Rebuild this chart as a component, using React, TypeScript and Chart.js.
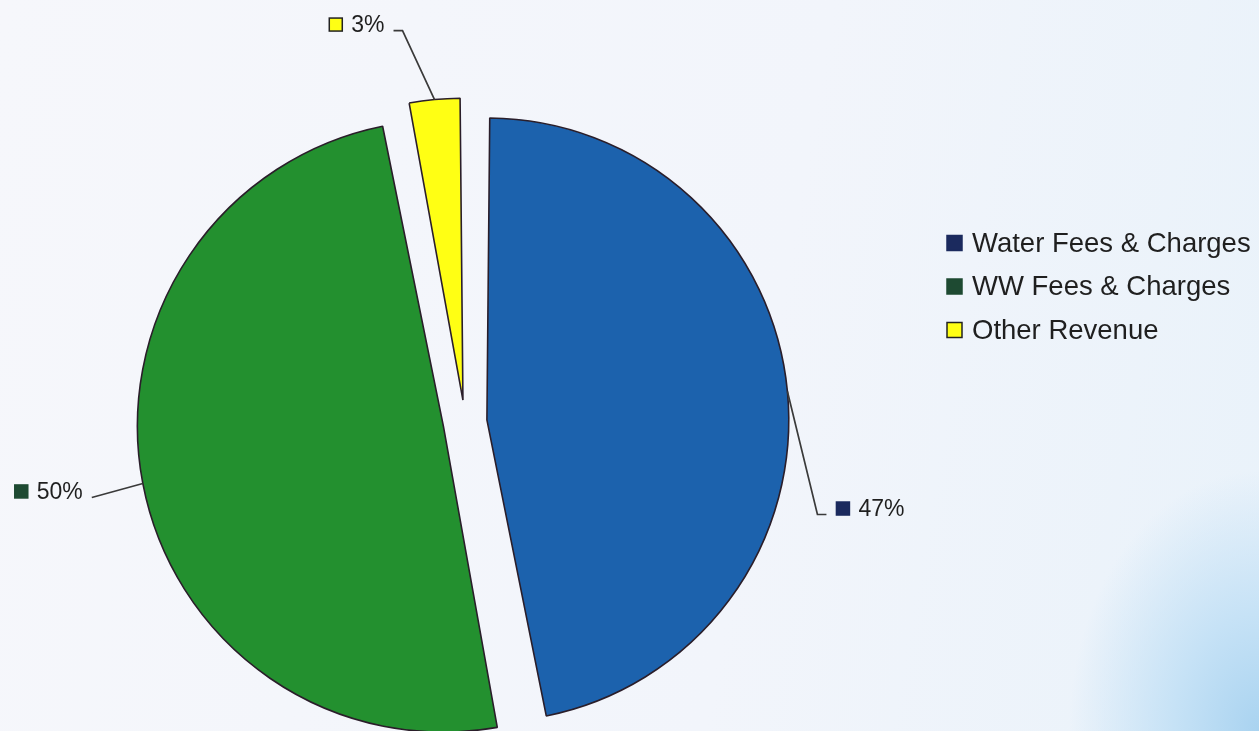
import React, { useEffect, useRef } from "react";
import { Chart, registerables } from "chart.js";

Chart.register(...registerables);

const categories = ["Water Fees & Charges", "WW Fees & Charges", "Other Revenue"];
const values = [47, 50, 3];
const valueLabels = ["47%", "50%", "3%"];

const sliceColors = ["#1c62ad", "#23902f", "#ffff14"];
const markerColors = ["#1b2a5e", "#1e4a32", "#ffff14"];
const markerBorders = ["#1b2a5e", "#1e4a32", "#222222"];

// leader elbow offset from slice edge, and side of label
const labelElbow: [number, number][] = [
  [30, 123],
  [-51, 14],
  [-32, -69],
];
const labelSide = [1, -1, -1];

const FONT = "'Liberation Sans', Arial, sans-serif";

const labelPlugin = {
  id: "sliceLabels",
  afterDatasetsDraw(chart: any) {
    const ctx = chart.ctx;
    const meta = chart.getDatasetMeta(0);
    const ds = chart.data.datasets[0];
    const shift = (ds.offset as number) / 4;
    ctx.save();
    meta.data.forEach((arc: any, i: number) => {
      const mid = (arc.startAngle + arc.endAngle) / 2;
      const circ = arc.endAngle - arc.startAngle;
      const fix = 1 - Math.sin(Math.min(Math.PI, circ));
      const rr = arc.outerRadius + shift * fix;
      const cx = arc.x + Math.cos(mid) * shift;
      const cy = arc.y + Math.sin(mid) * shift;
      const ax = cx + Math.cos(mid) * rr;
      const ay = cy + Math.sin(mid) * rr;
      const ex = ax + labelElbow[i][0];
      const ey = ay + labelElbow[i][1];
      const side = labelSide[i];
      const hLen = i === 1 ? 0 : 9;
      const lx = ex + side * hLen;
      ctx.strokeStyle = "#3a3a3a";
      ctx.lineWidth = 1.7;
      ctx.beginPath();
      ctx.moveTo(ax, ay);
      ctx.lineTo(ex, ey);
      ctx.lineTo(lx, ey);
      ctx.stroke();
      ctx.font = `23px ${FONT}`;
      ctx.textBaseline = "middle";
      const text = valueLabels[i];
      const tw = ctx.measureText(text).width;
      const ms = 13;
      const gapLine = side > 0 ? 10 : 9;
      const gapMarker = 9;
      let markerX: number, textX: number;
      if (side > 0) {
        markerX = lx + gapLine;
        textX = markerX + ms + gapMarker;
      } else {
        textX = lx - gapLine - tw;
        markerX = textX - gapMarker - ms;
      }
      const ty = ey - 6;
      ctx.fillStyle = markerColors[i];
      ctx.fillRect(markerX, ty - ms / 2, ms, ms);
      ctx.strokeStyle = markerBorders[i];
      ctx.lineWidth = 1.5;
      ctx.strokeRect(markerX, ty - ms / 2, ms, ms);
      ctx.fillStyle = "#1f1f1f";
      ctx.textAlign = "left";
      ctx.fillText(text, textX, ty + 1);
    });
    ctx.restore();
  },
};

const legendPlugin = {
  id: "customLegend",
  afterDraw(chart: any) {
    const ctx = chart.ctx;
    const area = chart.chartArea;
    const x0 = area.right + 17;
    const y0 = 243;
    const step = 43.5;
    ctx.save();
    ctx.font = `27.5px ${FONT}`;
    ctx.textBaseline = "middle";
    ctx.textAlign = "left";
    categories.forEach((c, i) => {
      const y = y0 + i * step;
      const s = 15;
      ctx.fillStyle = markerColors[i];
      ctx.fillRect(x0, y - s / 2, s, s);
      ctx.strokeStyle = markerBorders[i];
      ctx.lineWidth = 1.5;
      ctx.strokeRect(x0, y - s / 2, s, s);
      ctx.fillStyle = "#1f1f1f";
      ctx.fillText(c, x0 + s + 10, y + 1);
    });
    ctx.restore();
  },
};

export default function App() {
  const canvasRef = useRef<HTMLCanvasElement | null>(null);

  useEffect(() => {
    if (!canvasRef.current) return;
    const chart = new Chart(canvasRef.current, {
      type: "pie",
      data: {
        labels: categories,
        datasets: [
          {
            data: values,
            backgroundColor: sliceColors,
            borderColor: "#2a1e2a",
            borderWidth: 1.6,
            offset: 88,
            radius: 284,
          } as any,
        ],
      },
      options: {
        animation: false,
        responsive: true,
        maintainAspectRatio: false,
        layout: { padding: { left: 0, right: 329, top: 113, bottom: 0 } },
        plugins: {
          legend: { display: false },
          tooltip: { enabled: false },
        },
      },
      plugins: [labelPlugin, legendPlugin],
    });
    return () => chart.destroy();
  }, []);

  return (
    <div
      style={{
        position: "fixed",
        left: 0,
        top: 0,
        width: 1259,
        height: 731,
        background:
          "radial-gradient(ellipse 190px 260px at 1259px 731px, #a9d3f0 0%, #c6e2f6 45%, rgba(230,240,250,0) 100%), linear-gradient(100deg, #f6f7fb 0%, #f2f5fb 60%, #e9f2fa 100%)",
      }}
    >
      <canvas ref={canvasRef} />
    </div>
  );
}
